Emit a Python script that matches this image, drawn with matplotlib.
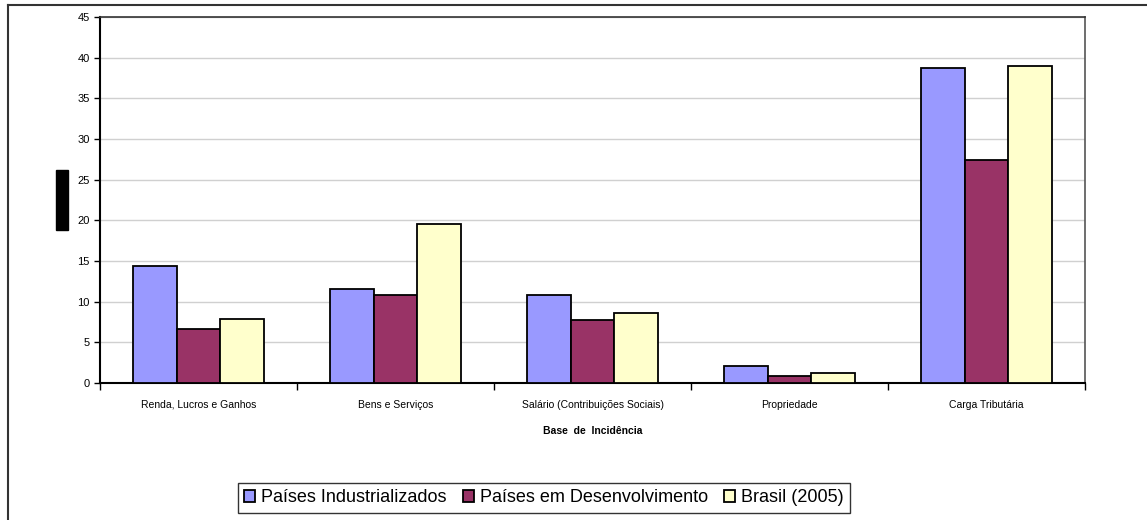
import numpy as np
import matplotlib.pyplot as plt
from matplotlib.patches import Rectangle
from matplotlib.lines import Line2D

plt.rcParams['font.family'] = ['Liberation Sans', 'DejaVu Sans']

categorias = ['Renda, Lucros e Ganhos', 'Bens e Serviços', 'Salário (Contribuições Sociais)',
              'Propriedade', 'Carga Tributária']
industrializados = [14.4, 11.5, 10.8, 2.1, 38.8]
desenvolvimento = [6.7, 10.8, 7.7, 0.9, 27.4]
brasil = [7.9, 19.5, 8.6, 1.2, 39.0]

series = [('Países Industrializados', industrializados, '#9999ff'),
          ('Países em Desenvolvimento', desenvolvimento, '#993366'),
          ('Brasil (2005)', brasil, '#ffffcc')]

fig = plt.figure(figsize=(11.47, 5.2), dpi=100)
ax = fig.add_axes([0.0872, 0.2635, 0.8588, 0.7035])

x = np.arange(len(categorias))
w = 0.222
for i, (nome, vals, cor) in enumerate(series):
    ax.bar(x + (i - 1) * w, vals, w, color=cor, edgecolor='black', linewidth=1.3,
           label=nome, zorder=3)

ax.set_xlim(-0.5, len(categorias) - 0.5)
ax.set_ylim(0, 45)
ax.set_yticks(range(0, 46, 5))
ax.yaxis.grid(True, color='#d0d0d0', linewidth=1, zorder=0)
ax.set_xticks(x)
ax.set_xticklabels(categorias, fontsize=7.5)
ax.set_xticks(np.arange(-0.5, len(categorias)), minor=True)
ax.tick_params(axis='x', which='major', length=0, pad=12)
ax.tick_params(axis='x', which='minor', length=5, direction='out', width=1)
ax.tick_params(axis='y', labelsize=8, length=4, width=1)
ax.spines['left'].set_linewidth(1.5)
ax.spines['bottom'].set_linewidth(1.5)
ax.spines['top'].set_color('#333333')
ax.spines['right'].set_color('#555555')
ax.spines['top'].set_linewidth(1.2)
ax.spines['right'].set_linewidth(1.2)

ax.set_xlabel('Base  de  Incidência', fontsize=7.5, fontweight='bold', labelpad=12)

# rótulo do eixo y coberto
fig.patches.append(Rectangle((56 / 1147, 1 - 230 / 520), 12 / 1147, 60 / 520,
                             transform=fig.transFigure, color='black', zorder=5))

# moldura externa
fig.add_artist(Line2D([8 / 1147, 1], [1 - 5 / 520, 1 - 5 / 520], color='#333333', linewidth=1.5))
fig.add_artist(Line2D([8 / 1147, 8 / 1147], [0, 1 - 5 / 520], color='#333333', linewidth=1.5))

leg = fig.legend(loc='center', bbox_to_anchor=(544 / 1147, 1 - 498 / 520), ncol=3,
                 fontsize=13, frameon=True, fancybox=False, edgecolor='black',
                 handlelength=0.6, handleheight=0.6, handletextpad=0.35, columnspacing=0.9,
                 borderpad=0.35)
leg.get_frame().set_linewidth(1)

fig.savefig('out.png', dpi=100)
